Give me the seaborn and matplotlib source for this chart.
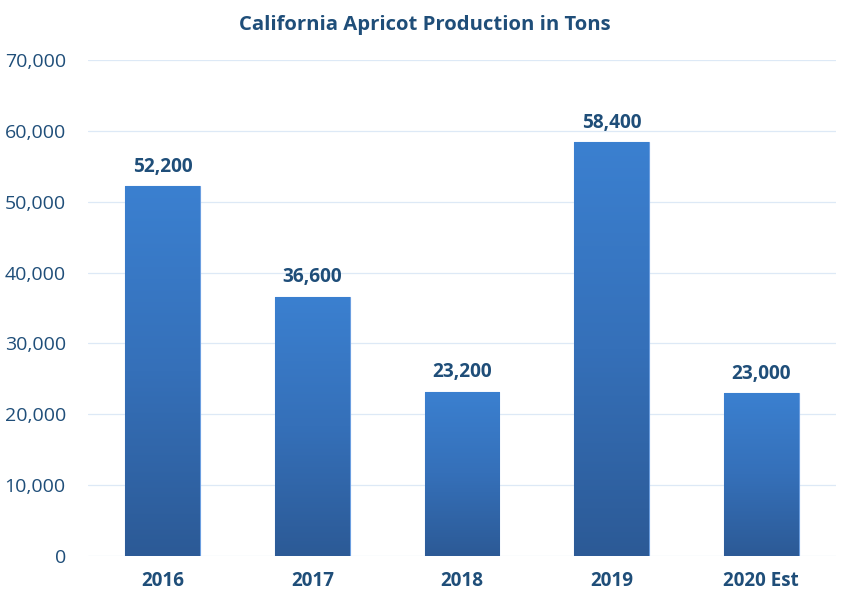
import seaborn as sns
import matplotlib.pyplot as plt
import numpy as np
import pandas as pd
from matplotlib.colors import LinearSegmentedColormap
from matplotlib.ticker import FuncFormatter

# Data
years = ['2016', '2017', '2018', '2019', '2020 Est']
tons = [52200, 36600, 23200, 58400, 23000]

data = pd.DataFrame({'Year': years, 'Tons': tons})

sns.set_style("white")
plt.rcParams['font.family'] = ['Open Sans', 'DejaVu Sans']

dark = '#1f4e79'
fig = plt.figure(figsize=(8.5, 6.04), dpi=100)
ax = fig.add_axes([0.1035, 0.0795, 0.88, 0.821])

sns.barplot(data=data, x='Year', y='Tons', color='#3a7bc8', width=0.5,
            edgecolor='#6b9ee0', linewidth=0.8, ax=ax, zorder=2)

# vertical gradient fill on each bar
cmap = LinearSegmentedColormap.from_list('bar', ['#2c5a96', '#3570b9', '#3b80d0'])
grad = np.linspace(0, 1, 256).reshape(-1, 1)
for p in ax.patches:
    x0, y0 = p.get_x(), p.get_y()
    w, h = p.get_width(), p.get_height()
    im = ax.imshow(grad, cmap=cmap, origin='lower', aspect='auto',
                   extent=[x0, x0 + w, y0, y0 + h], zorder=2.5)
    im.set_clip_path(p)
    ax.text(x0 + w / 2, h + 1300, f'{int(h):,}', ha='center', va='bottom',
            fontsize=13.7, fontweight='bold', color=dark, zorder=4)

ax.set_xlim(-0.5, 4.5)
ax.set_ylim(0, 70000)
ax.set_yticks(range(0, 70001, 10000))
ax.yaxis.set_major_formatter(FuncFormatter(lambda v, _: f'{int(v):,}'))
ax.grid(axis='y', color='#dde9f6', linewidth=0.9, zorder=0)
for s in ax.spines.values():
    s.set_visible(False)
ax.tick_params(axis='y', labelsize=14, labelcolor=dark, length=0, pad=16)
ax.tick_params(axis='x', labelsize=13.6, labelcolor=dark, length=0, pad=11)
for lbl in ax.get_xticklabels():
    lbl.set_fontweight('bold')
ax.set_xlabel('')
ax.set_ylabel('')

fig.text(0.5, 0.958, 'California Apricot Production in Tons', ha='center',
         va='center', fontsize=14.6, fontweight='bold', color=dark)

fig.savefig('out.png', dpi=100)
